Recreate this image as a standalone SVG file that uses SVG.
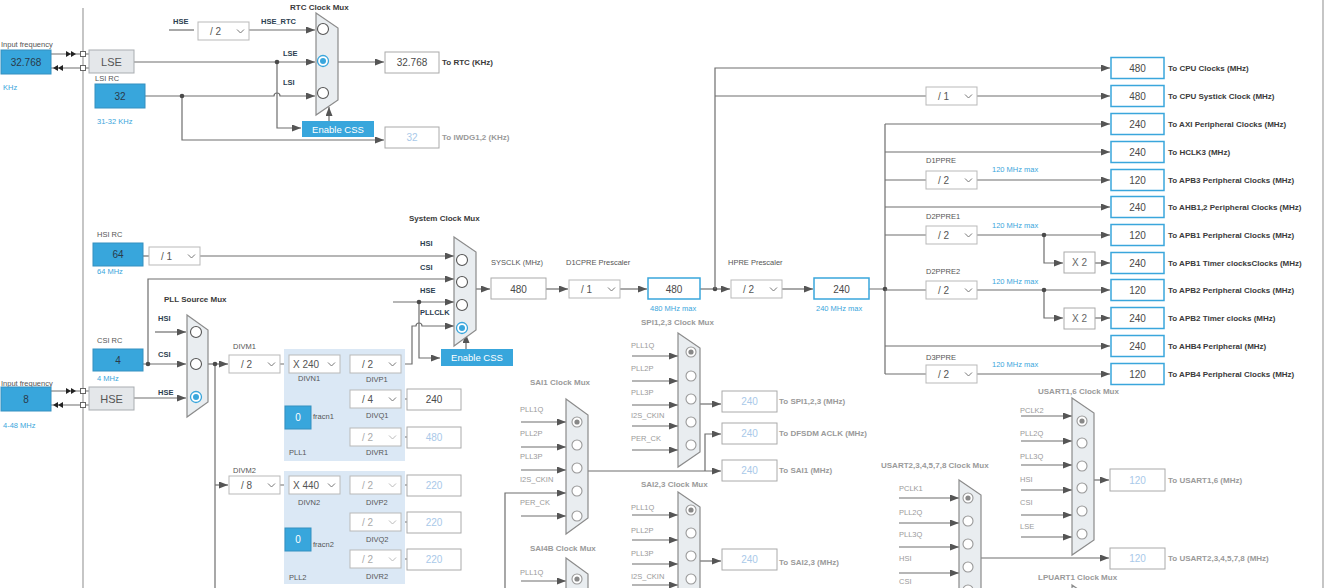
<svg xmlns="http://www.w3.org/2000/svg" width="1325" height="588" viewBox="0 0 1325 588">
<defs>
<style>
text{font-family:"Liberation Sans",Arial,sans-serif}
.ln{stroke:#6e6e6e;stroke-width:1.2;fill:none}
.ar{marker-end:url(#ah)}
.dot{fill:#4a4a4a}
.bord{stroke:#a0a0a0;stroke-width:1.2;fill:none}
.lbl{font-size:7.5px;fill:#555}
.pin{font-size:7.5px;fill:#2c3e50;font-weight:bold}
.gpin{font-size:7.5px;fill:#9a9a9a}
.ttl{font-size:8px;font-weight:bold;fill:#3a3a3a}
.gttl{font-size:8px;font-weight:bold;fill:#9a9a9a}
.out{font-size:8px;font-weight:bold;fill:#3a3a3a}
.gout{font-size:8px;font-weight:bold;fill:#9a9a9a}
.blu{font-size:7.5px;fill:#3aa6dc}
.v{font-size:10px;fill:#4a4a4a;text-anchor:middle}
.dv{font-size:10px;fill:#a9c9e9;text-anchor:middle}
.bv{font-size:10px;fill:#2a3a4a;text-anchor:middle}
.wv{font-size:10px;fill:#fff;text-anchor:middle}
.bb{fill:#38a6dc;stroke:#3590c0}
.ob{fill:#fff;stroke:#3aa6dc;stroke-width:1.5}
.gb{fill:#fff;stroke:#aaa}
.sb{fill:#e4e7ea;stroke:#a9adb1}
.sv{font-size:11px;fill:#555;text-anchor:middle}
.dd{fill:#fff;stroke:#b9b9b9}
.ch{fill:none;stroke:#777;stroke-width:1}
.dch{fill:none;stroke:#bbb;stroke-width:1}
.ddt{font-size:10px;fill:#555}
.dddt{font-size:10px;fill:#aaa}
.mux{fill:#e9edf0;stroke:#8b8b8b;stroke-width:1.2}
.rd{fill:#fff;stroke:#555;stroke-width:1.1}
.grd{fill:#fff;stroke:#999;stroke-width:1.1}
.sel{fill:#fff;stroke:#3aa6dc;stroke-width:1.3}
.seld{fill:#3aa6dc}
.gseld{fill:#888}
.css{fill:#38a6dc}
.csst{font-size:9.5px;fill:#fff;text-anchor:middle}
.pll{fill:#dbe8f5}
.sq{fill:#fff;stroke:#666}
.tri{fill:#222}
.xt{font-size:10px;fill:#666;text-anchor:middle}
</style>
<marker id="ah" markerWidth="9" markerHeight="7" refX="9" refY="3.5" orient="auto" markerUnits="userSpaceOnUse"><path d="M0,0 L9,3.5 L0,7 z" fill="#555"/></marker>
<g id="ddb"><rect class="dd" width="51" height="18"/><path class="ch" d="M39,7.5 L42.5,11 L46,7.5"/></g>
<g id="ddd"><rect class="dd" width="51" height="18"/><path class="dch" d="M39,7.5 L42.5,11 L46,7.5"/></g>
</defs>
<rect width="1325" height="588" fill="#fff"/>
<path class="bord" d="M83,8 V588 M1323,0 V588"/>

<g id="connectors">
<path class="ln" d="M51,54 H80 M51,68 H80 M85,54 H89 M85,68 H89 M51,391 H80 M51,405 H80 M85,391 H89 M85,405 H89"/>
<polygon class="tri" points="66,51 71,54 66,57"/><polygon class="tri" points="71,51 76,54 71,57"/>
<polygon class="tri" points="58,65 53,68 58,71"/><polygon class="tri" points="63,65 58,68 63,71"/>
<polygon class="tri" points="66,388 71,391 66,394"/><polygon class="tri" points="71,388 76,391 71,394"/>
<polygon class="tri" points="58,402 53,405 58,408"/><polygon class="tri" points="63,402 58,405 63,408"/>
<path class="ln ar" d="M134,62 H315"/>
<path class="ln ar" d="M277,62 V128 H301"/>
<path class="ln ar" d="M145,96 H274 a3,3 0 0 1 6,0 H315"/>
<path class="ln ar" d="M182,96 V140 H384"/>
<path class="ln" d="M169,30 H194"/>
<path class="ln ar" d="M249,30 H315"/>
<path class="ln ar" d="M329,121 V107"/>
<path class="ln ar" d="M338,62 H384"/>
<circle class="dot" cx="277" cy="62" r="2.3"/><circle class="dot" cx="182" cy="96" r="2.3"/>

<path class="ln" d="M143,256 H149"/>
<path class="ln ar" d="M200,256 H454"/>
<path class="ln ar" d="M143,364 H186"/>
<path class="ln ar" d="M148,364 V279 H454"/>
<path class="ln ar" d="M155,332 H186"/>
<path class="ln ar" d="M134,398 H186"/>
<path class="ln ar" d="M208,364 H228"/>
<path class="ln" d="M215,364 V588"/>
<path class="ln ar" d="M215,485 H228"/>
<circle class="dot" cx="148" cy="364" r="2.3"/><circle class="dot" cx="215" cy="364" r="2.3"/>
<path class="ln" d="M280,364 H289 M280,485 H289 M340,364 H350 M342,364 V437 M342,399 H350 M342,437 H350 M400,399 H407 M400,437 H407"/>
<path class="ln" d="M340,485 H350 M342,485 V559 M342,522 H350 M342,559 H350 M400,485 H407 M400,522 H407 M400,559 H407"/>
<path class="ln ar" d="M400,364 H412 V326 H416 a3,3 0 0 1 6,0 H454"/>
<path class="ln ar" d="M393,302 H454"/>
<path class="ln ar" d="M419,302 V358 H440"/>
<circle class="dot" cx="419" cy="302" r="2.3"/>
<path class="ln ar" d="M466,349 V334"/>
<path class="ln ar" d="M476,289 H490"/>
<path class="ln ar" d="M546,289 H568"/>
<path class="ln ar" d="M620,289 H647"/>
<path class="ln ar" d="M700,289 H730"/>
<path class="ln ar" d="M782,289 H813"/>
<circle class="dot" cx="715" cy="289" r="2.3"/>
<path class="ln ar" d="M715,289 V68 H1110"/>
<path class="ln" d="M715,96 H926"/>
<path class="ln ar" d="M977,96 H1110"/>
<path class="ln" d="M869,289 H885 M885,124 V374"/>
<circle class="dot" cx="885" cy="289" r="2.3"/>
<path class="ln ar" d="M885,124 H1110"/>
<path class="ln ar" d="M885,152 H1110"/>
<path class="ln" d="M885,180 H926 M885,235 H926 M885,290 H926 M885,374 H926"/>
<path class="ln ar" d="M977,180 H1110"/>
<path class="ln ar" d="M885,207 H1110"/>
<path class="ln ar" d="M977,235 H1110"/>
<path class="ln ar" d="M1044,235 V263 H1063"/>
<path class="ln ar" d="M1095,263 H1110"/>
<path class="ln ar" d="M977,290 H1110"/>
<path class="ln ar" d="M1044,290 V318 H1063"/>
<path class="ln ar" d="M1095,318 H1110"/>
<path class="ln ar" d="M885,346 H1110"/>
<path class="ln ar" d="M977,374 H1110"/>
<circle class="dot" cx="1044" cy="235" r="2.3"/><circle class="dot" cx="1044" cy="290" r="2.3"/>

<path class="ln ar" d="M632,356 H678"/><path class="ln ar" d="M632,381 H678"/><path class="ln ar" d="M632,405 H678"/><path class="ln ar" d="M632,426 H678"/><path class="ln ar" d="M632,450 H678"/>
<path class="ln ar" d="M700,404 H721"/>
<path class="ln ar" d="M705,471 V434 H721"/>
<path class="ln ar" d="M521,422 H566"/><path class="ln ar" d="M521,447 H566"/><path class="ln ar" d="M521,470 H566"/><path class="ln ar" d="M505,588 V493 H566"/><path class="ln ar" d="M521,516 H566"/>
<path class="ln ar" d="M588,471 H721"/>
<path class="ln ar" d="M521,581 H566"/>
<path class="ln ar" d="M632,515 H678"/><path class="ln ar" d="M632,540 H678"/><path class="ln ar" d="M632,564 H678"/><path class="ln ar" d="M632,585 H678"/>
<path class="ln ar" d="M700,561 H721"/>
<path class="ln ar" d="M899,498 H959"/><path class="ln ar" d="M899,523 H959"/><path class="ln ar" d="M899,547 H959"/><path class="ln ar" d="M899,573 H959"/>
<path class="ln ar" d="M981,558 H1109"/>
<path class="ln ar" d="M1021,416 H1072"/><path class="ln ar" d="M1021,441 H1072"/><path class="ln ar" d="M1021,465 H1072"/><path class="ln ar" d="M1021,490 H1072"/><path class="ln ar" d="M1021,515 H1072"/><path class="ln ar" d="M1021,537 H1072"/>
<path class="ln ar" d="M1094,480 H1109"/>
</g>

<g id="lse-input">
<text class="lbl" x="1" y="47">Input frequency</text>
<rect class="bb" x="1" y="50" width="50" height="24"/><text class="bv" x="26" y="66">32.768</text>
<text class="blu" x="3" y="90">KHz</text>
<rect class="sq" x="80.5" y="51.5" width="5" height="5"/><rect class="sq" x="80.5" y="65.5" width="5" height="5"/>
</g>
<g id="lse"><rect class="sb" x="89" y="50" width="45" height="23"/><text class="sv" x="111.5" y="66">LSE</text></g>
<g id="lsi"><text class="lbl" x="95" y="81">LSI RC</text><rect class="bb" x="95" y="84" width="50" height="24"/><text class="bv" x="120" y="100">32</text><text class="blu" x="97" y="124">31-32 KHz</text></g>
<g id="rtc-div"><text class="pin" x="173" y="24">HSE</text><use href="#ddb" x="198" y="22"/><text class="ddt" x="210" y="35">/ 2</text><text class="pin" x="261" y="24">HSE_RTC</text></g>
<g id="rtc-mux">
<text class="ttl" x="290" y="10">RTC Clock Mux</text>
<text class="pin" x="283" y="56">LSE</text><text class="pin" x="283" y="85">LSI</text>
<polygon class="mux" points="316,13 338,28 338,100 316,115"/>
<circle class="rd" cx="323" cy="29" r="5.5"/><circle class="sel" cx="323" cy="61" r="5.5"/><circle class="seld" cx="323" cy="61" r="3"/><circle class="rd" cx="323" cy="93" r="5.5"/>
</g>
<g id="rtc-css"><rect class="css" x="302" y="121" width="72" height="16"/><text class="csst" x="338" y="132.5">Enable CSS</text></g>
<g id="rtc-out"><rect class="gb" x="385" y="52" width="54" height="21"/><text class="v" x="412" y="66">32.768</text><text class="out" x="442" y="65">To RTC (KHz)</text></g>
<g id="iwdg-out"><rect class="gb" x="385" y="127" width="54" height="21"/><text class="dv" x="412" y="141">32</text><text class="gout" x="442" y="140">To IWDG1,2 (KHz)</text></g>

<g id="hsi"><text class="lbl" x="97" y="237">HSI RC</text><rect class="bb" x="93" y="243" width="50" height="23"/><text class="bv" x="118" y="258">64</text><text class="blu" x="97" y="274">64 MHz</text></g>
<g id="hsi-div"><use href="#ddb" x="149" y="247"/><text class="ddt" x="161" y="260">/ 1</text></g>
<g id="csi"><text class="lbl" x="97" y="343">CSI RC</text><rect class="bb" x="93" y="349" width="50" height="22"/><text class="bv" x="118" y="364">4</text><text class="blu" x="97" y="381">4 MHz</text></g>
<g id="hse-input">
<text class="lbl" x="1" y="386">Input frequency</text>
<rect class="bb" x="1" y="387" width="50" height="24"/><text class="bv" x="26" y="403">8</text>
<text class="blu" x="3" y="428">4-48 MHz</text>
<rect class="sq" x="80.5" y="388.5" width="5" height="5"/><rect class="sq" x="80.5" y="402.5" width="5" height="5"/>
</g>
<g id="hse"><rect class="sb" x="89" y="387" width="45" height="23"/><text class="sv" x="111.5" y="403">HSE</text></g>
<g id="pll-src-mux">
<text class="ttl" x="164" y="302">PLL Source Mux</text>
<text class="pin" x="158" y="321">HSI</text><text class="pin" x="158" y="357">CSI</text><text class="pin" x="158" y="395">HSE</text>
<polygon class="mux" points="187,315 208,330 208,402 187,417"/>
<circle class="rd" cx="196" cy="332" r="5.5"/><circle class="rd" cx="196" cy="364" r="5.5"/><circle class="sel" cx="196" cy="397" r="5.5"/><circle class="seld" cx="196" cy="397" r="3"/>
</g>
<g id="divm1"><text class="lbl" x="233" y="349">DIVM1</text><use href="#ddb" x="229" y="355"/><text class="ddt" x="241" y="368">/ 2</text></g>
<g id="pll1">
<rect class="pll" x="284" y="349" width="121" height="112"/>
<use href="#ddb" x="289" y="355"/><text class="ddt" x="293" y="368">X 240</text><text class="lbl" x="298" y="381">DIVN1</text>
<use href="#ddb" x="350" y="355"/><text class="ddt" x="362" y="368">/ 2</text><text class="lbl" x="366" y="382">DIVP1</text>
<use href="#ddb" x="350" y="390"/><text class="ddt" x="362" y="403">/ 4</text><text class="lbl" x="366" y="418">DIVQ1</text>
<use href="#ddd" x="350" y="428"/><text class="dddt" x="362" y="441">/ 2</text><text class="lbl" x="366" y="455">DIVR1</text>
<rect class="bb" x="285" y="406" width="26" height="23"/><text class="wv" x="298" y="421">0</text><text class="lbl" x="313" y="419">fracn1</text>
<text class="lbl" x="289" y="455">PLL1</text>
</g>
<g id="pll1-q"><rect class="gb" x="407" y="389" width="54" height="21"/><text class="v" x="434" y="403">240</text></g>
<g id="pll1-r"><rect class="gb" x="407" y="427" width="54" height="21"/><text class="dv" x="434" y="441">480</text></g>
<g id="divm2"><text class="lbl" x="233" y="473">DIVM2</text><use href="#ddb" x="229" y="476"/><text class="ddt" x="241" y="489">/ 8</text></g>
<g id="pll2">
<rect class="pll" x="284" y="471" width="121" height="113"/>
<use href="#ddb" x="289" y="476"/><text class="ddt" x="293" y="489">X 440</text><text class="lbl" x="298" y="505">DIVN2</text>
<use href="#ddd" x="350" y="476"/><text class="dddt" x="362" y="489">/ 2</text><text class="lbl" x="366" y="505">DIVP2</text>
<use href="#ddd" x="350" y="513"/><text class="dddt" x="362" y="526">/ 2</text><text class="lbl" x="366" y="542">DIVQ2</text>
<use href="#ddd" x="350" y="550"/><text class="dddt" x="362" y="563">/ 2</text><text class="lbl" x="366" y="579">DIVR2</text>
<rect class="bb" x="285" y="528" width="26" height="23"/><text class="wv" x="298" y="543">0</text><text class="lbl" x="313" y="547">fracn2</text>
<text class="lbl" x="289" y="580">PLL2</text>
</g>
<g id="pll2-out">
<rect class="gb" x="407" y="475" width="54" height="21"/><text class="dv" x="434" y="489">220</text>
<rect class="gb" x="407" y="512" width="54" height="21"/><text class="dv" x="434" y="526">220</text>
<rect class="gb" x="407" y="549" width="54" height="21"/><text class="dv" x="434" y="563">220</text>
</g>

<g id="sys-mux">
<text class="ttl" x="409" y="221">System Clock Mux</text>
<text class="pin" x="420" y="246">HSI</text><text class="pin" x="420" y="270">CSI</text><text class="pin" x="420" y="293">HSE</text><text class="pin" x="420" y="315">PLLCLK</text>
<polygon class="mux" points="454,237 476,252 476,330 454,346"/>
<circle class="rd" cx="462" cy="260" r="5.5"/><circle class="rd" cx="462" cy="282" r="5.5"/><circle class="rd" cx="462" cy="305" r="5.5"/><circle class="sel" cx="462" cy="328" r="5.5"/><circle class="seld" cx="462" cy="328" r="3"/>
</g>
<g id="sys-css"><rect class="css" x="441" y="349" width="72" height="17"/><text class="csst" x="477" y="361">Enable CSS</text></g>
<g id="sysclk"><text class="lbl" x="491" y="265">SYSCLK (MHz)</text><rect class="gb" x="491" y="278" width="55" height="21"/><text class="v" x="518.5" y="292.5">480</text></g>
<g id="d1cpre"><text class="lbl" x="566" y="265">D1CPRE Prescaler</text><use href="#ddb" x="569" y="280"/><text class="ddt" x="581" y="293">/ 1</text></g>
<g id="cpu-clk"><rect class="ob" x="648" y="278" width="52" height="21"/><text class="v" x="674" y="292.5">480</text><text class="blu" x="650" y="311">480 MHz max</text></g>
<g id="hpre"><text class="lbl" x="728" y="265">HPRE Prescaler</text><use href="#ddb" x="731" y="280"/><text class="ddt" x="743" y="293">/ 2</text></g>
<g id="hclk"><rect class="ob" x="814" y="278" width="55" height="21"/><text class="v" x="841.5" y="292.5">240</text><text class="blu" x="816" y="311">240 MHz max</text></g>

<g id="systick-div"><use href="#ddb" x="926" y="87"/><text class="ddt" x="938" y="100">/ 1</text></g>
<g id="d1ppre"><text class="lbl" x="926" y="163">D1PPRE</text><use href="#ddb" x="926" y="171"/><text class="ddt" x="938" y="184">/ 2</text><text class="blu" x="992" y="172">120 MHz max</text></g>
<g id="d2ppre1"><text class="lbl" x="926" y="219">D2PPRE1</text><use href="#ddb" x="926" y="226"/><text class="ddt" x="938" y="239">/ 2</text><text class="blu" x="992" y="228">120 MHz max</text></g>
<g id="d2ppre2"><text class="lbl" x="926" y="274">D2PPRE2</text><use href="#ddb" x="926" y="281"/><text class="ddt" x="938" y="294">/ 2</text><text class="blu" x="992" y="284">120 MHz max</text></g>
<g id="d3ppre"><text class="lbl" x="926" y="360">D3PPRE</text><use href="#ddb" x="926" y="365"/><text class="ddt" x="938" y="378">/ 2</text><text class="blu" x="992" y="367">120 MHz max</text></g>
<g id="x2-apb1"><rect class="gb" x="1064" y="252" width="31" height="21"/><text class="xt" x="1079.5" y="266">X 2</text></g>
<g id="x2-apb2"><rect class="gb" x="1064" y="308" width="31" height="21"/><text class="xt" x="1079.5" y="322">X 2</text></g>

<g id="out-cpu"><rect class="ob" x="1111" y="57.5" width="53" height="21"/><text class="v" x="1137.5" y="71.5">480</text><text class="out" x="1168" y="71">To CPU Clocks (MHz)</text></g>
<g id="out-systick"><rect class="ob" x="1111" y="85.5" width="53" height="21"/><text class="v" x="1137.5" y="99.5">480</text><text class="out" x="1168" y="99">To CPU Systick Clock (MHz)</text></g>
<g id="out-axi"><rect class="ob" x="1111" y="113.5" width="53" height="21"/><text class="v" x="1137.5" y="127.5">240</text><text class="out" x="1168" y="127">To AXI Peripheral Clocks (MHz)</text></g>
<g id="out-hclk3"><rect class="ob" x="1111" y="141.5" width="53" height="21"/><text class="v" x="1137.5" y="155.5">240</text><text class="out" x="1168" y="155">To HCLK3 (MHz)</text></g>
<g id="out-apb3"><rect class="ob" x="1111" y="169.5" width="53" height="21"/><text class="v" x="1137.5" y="183.5">120</text><text class="out" x="1168" y="183">To APB3 Peripheral Clocks (MHz)</text></g>
<g id="out-ahb12"><rect class="ob" x="1111" y="196.5" width="53" height="21"/><text class="v" x="1137.5" y="210.5">240</text><text class="out" x="1168" y="210">To AHB1,2 Peripheral Clocks (MHz)</text></g>
<g id="out-apb1"><rect class="ob" x="1111" y="224.5" width="53" height="21"/><text class="v" x="1137.5" y="238.5">120</text><text class="out" x="1168" y="238">To APB1 Peripheral Clocks (MHz)</text></g>
<g id="out-apb1t"><rect class="ob" x="1111" y="252.5" width="53" height="21"/><text class="v" x="1137.5" y="266.5">240</text><text class="out" x="1168" y="266">To APB1 Timer clocksClocks (MHz)</text></g>
<g id="out-apb2"><rect class="ob" x="1111" y="279.5" width="53" height="21"/><text class="v" x="1137.5" y="293.5">120</text><text class="out" x="1168" y="293">To APB2 Peripheral Clocks (MHz)</text></g>
<g id="out-apb2t"><rect class="ob" x="1111" y="307.5" width="53" height="21"/><text class="v" x="1137.5" y="321.5">240</text><text class="out" x="1168" y="321">To APB2 Timer clocks (MHz)</text></g>
<g id="out-ahb4"><rect class="ob" x="1111" y="335.5" width="53" height="21"/><text class="v" x="1137.5" y="349.5">240</text><text class="out" x="1168" y="349">To AHB4 Peripheral (MHz)</text></g>
<g id="out-apb4"><rect class="ob" x="1111" y="363.5" width="53" height="21"/><text class="v" x="1137.5" y="377.5">120</text><text class="out" x="1168" y="377">To APB4 Peripheral Clocks (MHz)</text></g>

<g id="spi-mux">
<text class="gttl" x="641" y="325">SPI1,2,3 Clock Mux</text>
<text class="gpin" x="631" y="348">PLL1Q</text><text class="gpin" x="631" y="371">PLL2P</text><text class="gpin" x="631" y="395">PLL3P</text><text class="gpin" x="631" y="418">I2S_CKIN</text><text class="gpin" x="631" y="441">PER_CK</text>
<polygon class="mux" points="678,333 700,348 700,452 678,467"/>
<circle class="grd" cx="691" cy="352" r="5"/><circle class="gseld" cx="691" cy="352" r="2.6"/><circle class="grd" cx="691" cy="376" r="5"/><circle class="grd" cx="691" cy="399" r="5"/><circle class="grd" cx="691" cy="422" r="5"/><circle class="grd" cx="691" cy="445" r="5"/>
</g>
<g id="out-spi"><rect class="gb" x="722" y="391" width="55" height="21"/><text class="dv" x="749.5" y="405">240</text><text class="gout" x="779" y="404">To SPI1,2,3 (MHz)</text></g>
<g id="out-dfsdm"><rect class="gb" x="722" y="423" width="55" height="21"/><text class="dv" x="749.5" y="437">240</text><text class="gout" x="779" y="436">To DFSDM ACLK (MHz)</text></g>
<g id="out-sai1"><rect class="gb" x="722" y="460" width="55" height="21"/><text class="dv" x="749.5" y="474">240</text><text class="gout" x="779" y="473">To SAI1 (MHz)</text></g>
<g id="sai1-mux">
<text class="gttl" x="530" y="385">SAI1 Clock Mux</text>
<text class="gpin" x="520" y="412">PLL1Q</text><text class="gpin" x="520" y="436">PLL2P</text><text class="gpin" x="520" y="459">PLL3P</text><text class="gpin" x="520" y="482">I2S_CKIN</text><text class="gpin" x="520" y="505">PER_CK</text>
<polygon class="mux" points="566,399 588,415 588,518 566,534"/>
<circle class="grd" cx="577" cy="422" r="5"/><circle class="gseld" cx="577" cy="422" r="2.6"/><circle class="grd" cx="577" cy="445" r="5"/><circle class="grd" cx="577" cy="468" r="5"/><circle class="grd" cx="577" cy="491" r="5"/><circle class="grd" cx="577" cy="516" r="5"/>
</g>
<g id="sai4b-mux">
<text class="gttl" x="530" y="551">SAI4B Clock Mux</text>
<text class="gpin" x="520" y="575">PLL1Q</text>
<polygon class="mux" points="566,558 588,574 588,690 566,706"/>
<circle class="grd" cx="577" cy="579" r="5"/><circle class="gseld" cx="577" cy="579" r="2.6"/>
</g>
<g id="sai23-mux">
<text class="gttl" x="641" y="487">SAI2,3 Clock Mux</text>
<text class="gpin" x="631" y="510">PLL1Q</text><text class="gpin" x="631" y="533">PLL2P</text><text class="gpin" x="631" y="556">PLL3P</text><text class="gpin" x="631" y="579">I2S_CKIN</text>
<polygon class="mux" points="678,492 700,507 700,620 678,640"/>
<circle class="grd" cx="691" cy="510" r="5"/><circle class="gseld" cx="691" cy="510" r="2.6"/><circle class="grd" cx="691" cy="533" r="5"/><circle class="grd" cx="691" cy="556" r="5"/><circle class="grd" cx="691" cy="579" r="5"/>
</g>
<g id="out-sai23"><rect class="gb" x="722" y="549" width="55" height="21"/><text class="dv" x="749.5" y="563">240</text><text class="gout" x="779" y="565">To SAI2,3 (MHz)</text></g>
<g id="usart2-mux">
<text class="gttl" x="881" y="468">USART2,3,4,5,7,8 Clock Mux</text>
<text class="gpin" x="899" y="491">PCLK1</text><text class="gpin" x="899" y="515">PLL2Q</text><text class="gpin" x="899" y="537">PLL3Q</text><text class="gpin" x="899" y="561">HSI</text><text class="gpin" x="899" y="584">CSI</text>
<polygon class="mux" points="959,480 981,495 981,600 959,620"/>
<circle class="grd" cx="968" cy="498" r="5"/><circle class="gseld" cx="968" cy="498" r="2.6"/><circle class="grd" cx="968" cy="521" r="5"/><circle class="grd" cx="968" cy="544" r="5"/><circle class="grd" cx="968" cy="567" r="5"/><circle class="grd" cx="968" cy="590" r="5"/>
</g>
<g id="out-usart2"><rect class="gb" x="1110" y="548" width="55" height="21"/><text class="dv" x="1137.5" y="562">120</text><text class="gout" x="1168" y="561">To USART2,3,4,5,7,8 (MHz)</text></g>
<g id="usart16-mux">
<text class="gttl" x="1038" y="394">USART1,6 Clock Mux</text>
<text class="gpin" x="1020" y="413">PCLK2</text><text class="gpin" x="1020" y="436">PLL2Q</text><text class="gpin" x="1020" y="459">PLL3Q</text><text class="gpin" x="1020" y="482">HSI</text><text class="gpin" x="1020" y="505">CSI</text><text class="gpin" x="1020" y="529">LSE</text>
<polygon class="mux" points="1072,398 1094,413 1094,540 1072,555"/>
<circle class="grd" cx="1082" cy="421" r="5"/><circle class="gseld" cx="1082" cy="421" r="2.6"/><circle class="grd" cx="1082" cy="443" r="5"/><circle class="grd" cx="1082" cy="466" r="5"/><circle class="grd" cx="1082" cy="488" r="5"/><circle class="grd" cx="1082" cy="511" r="5"/><circle class="grd" cx="1082" cy="534" r="5"/>
</g>
<g id="out-usart16"><rect class="gb" x="1110" y="469" width="55" height="22"/><text class="dv" x="1137.5" y="483.5">120</text><text class="gout" x="1168" y="483">To USART1,6 (MHz)</text></g>
<g id="lpuart1-mux">
<text class="gttl" x="1038" y="580">LPUART1 Clock Mux</text>
<polygon class="mux" points="1072,585 1094,600 1094,700 1072,715"/>
</g>
</svg>
